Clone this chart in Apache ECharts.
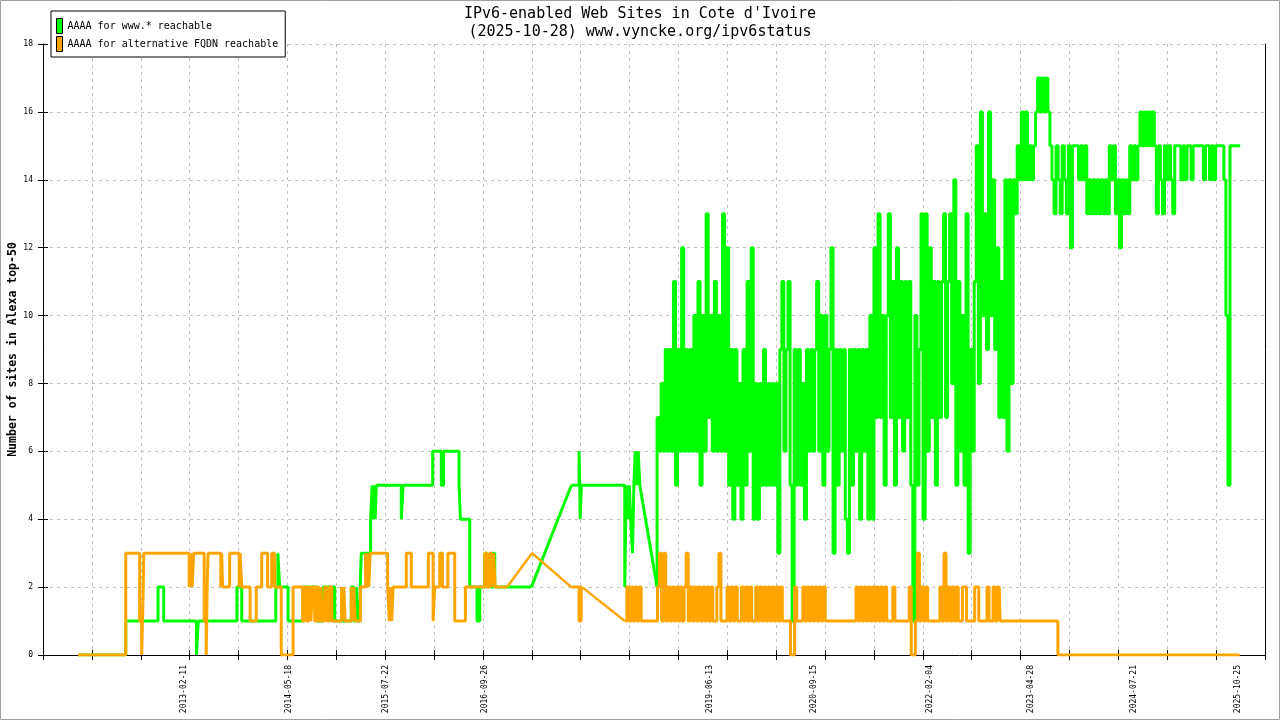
<!DOCTYPE html>
<html><head><meta charset="utf-8">
<script src="https://cdn.jsdelivr.net/npm/echarts@6/dist/echarts.min.js"></script>
<style>html,body{margin:0;padding:0;background:#fff}#c{width:1280px;height:720px}</style>
</head><body><div id="c"></div>
<script>
// x values are days since BASE_DATE
const BASE_DATE = '2011-06-03';
const dayOf = s => Math.round((Date.parse(s) - Date.parse(BASE_DATE)) / 864e5);
const xTickLabels = ['2013-02-11','2014-05-18','2015-07-22','2016-09-26','2019-06-13','2020-09-15','2022-02-04','2023-04-28','2024-07-21','2025-10-25'];
const X_MAX = 5375, X_TICK = 215;
const Y_MAX = 18, Y_TICK = 2;
const TITLE = "IPv6-enabled Web Sites in Cote d'Ivoire";
const SUBTITLE = '(2025-10-28) www.vyncke.org/ipv6status';
const NAME_WWW = 'AAAA for www.* reachable';
const NAME_ALT = 'AAAA for alternative FQDN reachable';

// ---- AAAA for www.* reachable (green) ----
const wwwSteps1 = [[154,0],[364,1],[506,2],[531,1],[675,0],[683,1],[853,2],[874,1],[1024,2],[1033,3],[1041,2],[1078,1],[1145,2],[1176,1],[1182,2],[1205,1],[1232,2],[1268,1],[1274,2],[1283,1],[1356,2],[1367,1],[1378,2],[1385,1],[1395,2],[1400,3],[1441,4],[1448,5],[1452,4],[1457,5],[1461,4],[1466,5],[1576,4],[1584,5],[1714,6],[1752,5],[1762,6],[1830,5],[1836,4],[1877,2],[1909,1],[1921,2],[1943,3],[1952,2],[1961,3],[1969,2],[1978,3],[1987,2],[2148,2]];
const wwwGap1 = [[2148,2],[2324,5]];
const wwwSteps2 = [[2324,5],[2358,6],[2363,4],[2368,5],[2559,2],[2565,5],[2572,4],[2579,5],[2585,4],[2593,3],[2599,5],[2605,6],[2612,5],[2618,6],[2625,5]];
const wwwGap2 = [[2625,5],[2701,2]];
const wwwDenseStart = 2701, wwwDenseStep = 9;
const wwwDense = [
7,6,8,6,9,6,9,6,11,5, 9,6,12,6,9,6,9,6,10,6, 11,5,10,6,13,7,10,6,11,6, 10,6,13,6,12,5,9,4,9,5,
8,4,9,5,11,6,12,4,8,4, 8,5,9,5,8,5,8,5,8,3, 9,11,6,9,11,5,1,9,5,9, 5,8,4,9,6,9,6,9,11,6,
10,5,10,6,9,12,3,9,5,9, 6,9,4,3,9,5,9,6,9,4, 9,6,9,4,10,4,12,7,13,7, 10,5,10,13,7,11,5,12,7,11,
6,11,7,11,5,1,10,5,9,13, 4,13,6,12,7,11,5,11,7,11, 13,7,11,13,8,14,5,11,6,10, 5,13,3,9,6,11,15,8,16,10,
13,9,16,10,14,9,12,7,11,7, 14,6,14,8,14,13,15,14,16,14, 16,14,15,14,15,16,17,16,17,16, 17,16,15,14,13,15,14,13,15,14,
13,15,12,15,15,15,14,15,14,15, 13,14,13,14,13,14,13,14,13,14, 13,15,14,15,13,14,12,14,13,14, 13,15,14,15,14,15,16,15,16,15,
16,15,16,15,13,15,14,13,15,14, 15,14,13,15,15,15,14,15,14,15, 15,14,15,15,15,15,15,14,15,15, 14,15,14,15,15,15,15,14,10,5,
15,15,15,15,15,15];

// ---- AAAA for alternative FQDN reachable (orange) ----
const altSteps1 = [[154,0],[364,3],[425,1],[434,0],[441,2],[443,3],[643,2],[650,3],[656,2],[663,3],[709,1],[718,0],[722,2],[726,3],[782,2],[786,3],[790,2],[821,3],[863,2],[867,3],[874,2],[911,1],[938,2],[962,3],[988,2],[1006,3],[1019,2],[1048,0],[1100,2],[1142,1],[1151,2],[1160,1],[1169,2],[1178,1],[1186,2],[1195,1],[1204,2],[1213,1],[1222,2],[1230,1],[1239,2],[1248,1],[1261,2],[1270,1],[1313,2],[1318,1],[1323,2],[1329,1],[1356,2],[1362,1],[1367,2],[1373,1],[1396,2],[1419,3],[1424,2],[1428,3],[1433,2],[1439,3],[1516,2],[1523,1],[1529,2],[1534,1],[1540,2],[1598,3],[1620,2],[1695,3],[1716,1],[1723,2],[1745,3],[1757,2],[1781,3],[1811,1],[1858,2],[1943,3],[1952,2],[1965,3],[1974,2],[1982,3],[1989,2],[2041,2]];
const altGap1 = [[2041,2],[2151,3],[2324,2]];
const altSteps2 = [[2324,2],[2358,1],[2367,2],[2371,2]];
const altGap2 = [[2371,2],[2559,1]];
const altDenseStart = 2559, altDenseStep = 9;
const altDense = [
1,2,1,2,1,2,1,2, 1,1,1,1,1,1,1,1, 2,3,1,3,1, 2,1,2,
1,2,1,2,1,2,3,1,2,1,2,1,2,1,2,1,2,1,2,1,1,2,3,1,1,1,
2,1,2,1,2,1, 1, 2,1,2,1,2,1, 1, 2,1,2,1,2,1,2,1,2,1,2,1,2,1,
1,1,1,0,0, 2,1,1,1,2,1,2,1, 2,1,2,1,2,1,2,1,
1,1,1,1,1,1,1,1,1,1,1,1,1,1,
2,1,2,1,2,1,2,1,2,1,2,1,2,1,2,1,
1,1,2,1,1,1,1,1,1,1, 2,0,0,1,3, 1,2,1,2,1, 1,1,1,1,1, 2,1,3, 1,2,1,2,1,2,1,
1,2,2, 1,1,1,1, 2,2, 1,1,1,1, 2,1,1,2,1,2,2];
const altSteps3 = [[4210,1],[4464,0],[5264,0]];

const GREEN = '#00ff00', ORANGE = '#ffa500';
const MONO = 'DejaVu Sans Mono';

const dense = (start, step, vals) => vals.map((v, i) => [start + i * step, v]);
const labelDays = xTickLabels.map(dayOf);
const labelOf = {};
xTickLabels.forEach((s, i) => { labelOf[labelDays[i]] = s; });

function piece(name, color, data, isStep, width) {
  return {
    name, type: 'line', data, step: isStep ? 'end' : false,
    xAxisIndex: 0, yAxisIndex: 0,
    showSymbol: false, symbol: 'none', silent: true, animation: false,
    color, itemStyle: { color },
    lineStyle: { color, width: width || 3 }
  };
}

const series = [
  piece(NAME_WWW, GREEN, wwwSteps1, true),
  piece(NAME_WWW, GREEN, wwwGap1, false, 3),
  piece(NAME_WWW, GREEN, wwwSteps2, true),
  piece(NAME_WWW, GREEN, wwwGap2, false, 3),
  piece(NAME_WWW, GREEN, [wwwGap2[wwwGap2.length - 1]].concat(dense(wwwDenseStart, wwwDenseStep, wwwDense)), true),
  piece(NAME_ALT, ORANGE, altSteps1, true),
  piece(NAME_ALT, ORANGE, altGap1, false, 2.5),
  piece(NAME_ALT, ORANGE, altSteps2, true),
  piece(NAME_ALT, ORANGE, altGap2, false, 2.5),
  piece(NAME_ALT, ORANGE, [altGap2[altGap2.length - 1]].concat(dense(altDenseStart, altDenseStep, altDense), altSteps3), true)
];

const gridLine = { show: true, lineStyle: { color: '#c0c0c0', width: 1, type: [3, 4] } };
const blackLine = { lineStyle: { color: '#000', width: 1 } };

const chart = echarts.init(document.getElementById('c'), null, { renderer: 'canvas' });
chart.setOption({
  backgroundColor: '#fff',
  animation: false,
  title: {
    text: TITLE, subtext: SUBTITLE, left: 'center', top: 2, itemGap: 3,
    textStyle: { fontFamily: MONO, fontSize: 15, fontWeight: 'normal', color: '#000' },
    subtextStyle: { fontFamily: MONO, fontSize: 15, color: '#000' }
  },
  legend: {
    data: [NAME_WWW, NAME_ALT], orient: 'vertical', left: 51, top: 11,
    backgroundColor: '#fff', borderColor: '#000', borderWidth: 1, borderRadius: 0,
    padding: [7, 7, 5, 5], itemGap: 2, itemWidth: 6, itemHeight: 15, icon: 'rect',
    itemStyle: { borderColor: '#000', borderWidth: 1 },
    textStyle: { fontFamily: MONO, fontSize: 10, color: '#000' },
    selectedMode: false
  },
  grid: { left: 43, right: 15, top: 44, bottom: 65, containLabel: false, outerBoundsMode: 'none' },
  xAxis: [
    { type: 'value', min: 0, max: X_MAX, interval: X_TICK, position: 'bottom',
      axisLine: { show: true, onZero: false, ...blackLine },
      axisTick: { show: true, inside: false, length: 5, ...blackLine },
      splitLine: gridLine,
      axisLabel: { customValues: labelDays, formatter: v => labelOf[v] || '', rotate: 90, margin: 10,
        fontFamily: MONO, fontSize: 8, color: '#000' } },
    { type: 'value', min: 0, max: X_MAX, interval: X_TICK, position: 'bottom',
      axisLine: { show: false }, axisTick: { show: true, inside: true, length: 5, ...blackLine },
      splitLine: { show: false }, axisLabel: { show: false } }
  ],
  yAxis: [
    { type: 'value', min: 0, max: Y_MAX, interval: Y_TICK, position: 'left',
      axisLine: { show: true, onZero: false, ...blackLine },
      axisTick: { show: true, inside: false, length: 5, ...blackLine },
      splitLine: gridLine,
      axisLabel: { margin: 10, fontFamily: MONO, fontSize: 8, color: '#000' },
      name: 'Number of sites in Alexa top-50', nameLocation: 'middle', nameGap: 24, nameRotate: 90,
      nameMoveOverlap: false,
      nameTextStyle: { fontFamily: MONO, fontSize: 11.5, fontWeight: 'bold', color: '#000' } },
    { type: 'value', min: 0, max: Y_MAX, interval: Y_TICK, position: 'left',
      axisLine: { show: false }, axisTick: { show: true, inside: true, length: 5, ...blackLine },
      splitLine: { show: false }, axisLabel: { show: false } },
    { type: 'value', min: 0, max: Y_MAX, interval: Y_TICK, position: 'right',
      axisLine: { show: true, onZero: false, ...blackLine },
      axisTick: { show: false }, splitLine: { show: false }, axisLabel: { show: false } }
  ],
  graphic: [{ type: 'rect', silent: true, z: 100,
    shape: { x: 0.5, y: 0.5, width: 1279, height: 719 },
    style: { fill: null, stroke: '#a0a0a0', lineWidth: 1 } }],
  series
});
</script>
</body></html>
